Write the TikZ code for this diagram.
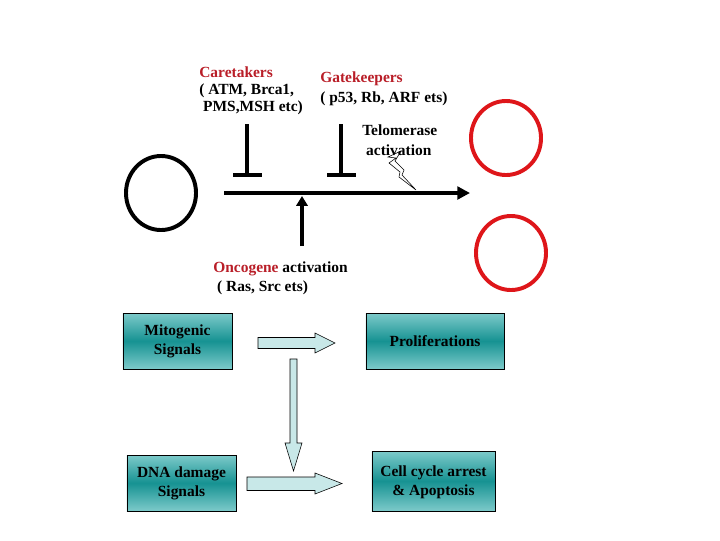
\documentclass[tikz,border=0pt]{standalone}
\usepackage{fontspec}
\setmainfont{Liberation Serif}
\usetikzlibrary{shapes,arrows.meta}

\definecolor{keyred}{RGB}{185,30,40}
\definecolor{cellred}{RGB}{222,22,26}
\definecolor{boxlight}{RGB}{125,202,202}
\definecolor{boxdark}{RGB}{22,146,146}
\definecolor{arrowfill}{RGB}{200,232,232}

\begin{document}
\begin{tikzpicture}[x=0.025cm, y=-0.025cm, font=\fontsize{11}{12}\selectfont\bfseries]
    % Define styles
    \tikzstyle{label} = [inner sep=0pt, anchor=west, align=left]
    \tikzstyle{cell} = [ellipse, draw=black, line width=2.8pt, minimum width=1.75cm, minimum height=1.85cm]
    \tikzstyle{tumor} = [cell, draw=cellred]
    \tikzstyle{signal} = [rectangle, draw=black, thin, top color=boxlight, bottom color=boxlight, middle color=boxdark, minimum height=1.4cm, align=center, font=\fontsize{11}{13.5}\selectfont\bfseries]
    \tikzstyle{pathway} = [line width=2.8pt, -{Triangle[length=9pt, width=9pt]}]
    \tikzstyle{block} = [line width=2.8pt]
    \tikzstyle{fat} = [draw=black, thin, fill=arrowfill]

    \useasboundingbox (0,0) rectangle (720,540);

    % Cells
    \node [cell] (normal) at (161,193) {};
    \node [tumor] (tumor1) at (506,138) {};
    \node [tumor] (tumor2) at (511,253) {};

    % Pathway arrow
    \coordinate (start) at (224,193);
    \coordinate (end) at (470,193);
    \draw [pathway] (start) -- (end);

    % Blockers
    \coordinate (care top) at (247,124);
    \coordinate (care bot) at (247,175);
    \coordinate (gate top) at (341,124);
    \coordinate (gate bot) at (341,175);
    \draw [block] (care top) -- (care bot);
    \draw [block] (233,175) -- (262,175);
    \draw [block] (gate top) -- (gate bot);
    \draw [block] (327,175) -- (356,175);

    % Oncogene push
    \coordinate (onc) at (302,246);
    \draw [pathway, -{Triangle[length=7pt, width=8pt]}] (onc) -- (302,196);

    % Lightning
    \draw [thin, fill=white] (388,157) -- (401,151) -- (395,161) -- (404,170) -- (402,175) -- (416,190)
        -- (399,177) -- (400,172) -- (389,163) -- (396,158) -- cycle;

    % Labels
    \node [label] (care) at (199,91) {\textcolor{keyred}{Caretakers}\\( ATM, Brca1,\\\ PMS,MSH etc)};
    \node [label, font=\fontsize{11}{14}\selectfont\bfseries] (gate) at (320,89) {\textcolor{keyred}{Gatekeepers}\\( p53, Rb, ARF ets)};
    \node [label, font=\fontsize{11}{14}\selectfont\bfseries] (telo) at (362,140) {Telomerase\\\ activation};
    \node [label, font=\fontsize{11}{13.5}\selectfont\bfseries] (oncotext) at (213,278) {\textcolor{keyred}{Oncogene} activation\\\ ( Ras, Src ets)};

    % Signal boxes
    \node [signal, minimum width=2.725cm] (mito) at (177.5,341) {Mitogenic\\Signals};
    \node [signal, minimum width=3.45cm] (prolif) at (435,341) {Proliferations};
    \node [signal, minimum width=2.725cm] (dna) at (181.5,483) {DNA damage\\Signals};
    \node [signal, minimum width=3.075cm, minimum height=1.5cm, text depth=-0.5pt] (arrest) at (433.5,481) {Cell cycle arrest\\\& Apoptosis};

    % Block arrows
    \draw [fat] (258,337.5) -- (315,337.5) -- (315,333) -- (335,343) -- (315,353) -- (315,348.5) -- (258,348.5) -- cycle;
    \draw [fat] (290,359) -- (297,359) -- (297,443) -- (302,443) -- (293.5,471) -- (285,443) -- (290,443) -- cycle;
    \draw [fat] (247,477) -- (315,477) -- (315,473) -- (342,483.5) -- (315,494) -- (315,490.5) -- (247,490.5) -- cycle;
\end{tikzpicture}
\end{document}
